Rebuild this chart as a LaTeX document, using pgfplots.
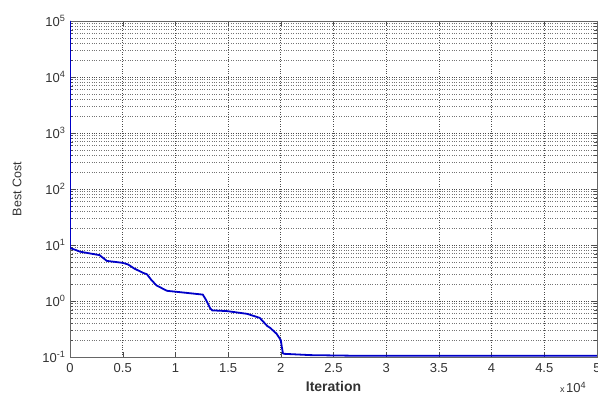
\documentclass[border=0pt]{standalone}
\usepackage{pgfplots}
\pgfplotsset{compat=1.18}
\usepackage{fontspec}
\setmainfont{Liberation Sans}
\definecolor{mblue}{RGB}{0,0,200}
\begin{document}
\begin{tikzpicture}
\useasboundingbox (0,0) rectangle (598pt,396pt);
\begin{axis}[
  at={(70pt,39pt)}, anchor=south west,
  scale only axis, width=527pt, height=336pt,
  ymode=log, log basis y=10,
  xmin=0, xmax=50000, ymin=0.1, ymax=1e5,
  xtick={0,5000,10000,15000,20000,25000,30000,35000,40000,45000,50000},
  xticklabels={0,0.5,1,1.5,2,2.5,3,3.5,4,4.5,5},
  ytick={0.1,1,10,100,1000,10000,100000},
  yticklabels={10\textsuperscript{-1},10\textsuperscript{0},10\textsuperscript{1},10\textsuperscript{2},10\textsuperscript{3},10\textsuperscript{4},10\textsuperscript{5}},
  minor ytick={0.2,0.3,0.4,0.5,0.6,0.7,0.8,0.9,2,3,4,5,6,7,8,9,20,30,40,50,60,70,80,90,200,300,400,500,600,700,800,900,2000,3000,4000,5000,6000,7000,8000,9000,20000,30000,40000,50000,60000,70000,80000,90000},
  scaled x ticks=false,
  tick align=inside,
  major tick length=5pt, minor tick length=3pt,
  tick style={black!70},
  axis line style={black!60, line width=0.8pt},
  xmajorgrids=true, ymajorgrids=true, yminorgrids=true,
  major grid style={dotted, black!70, line width=0.6pt},
  minor grid style={dotted, black!55, line width=0.5pt},
  ticklabel style={font=\fontsize{13}{13}\selectfont, black!80},
  xticklabel style={yshift=-3pt},
  yticklabel style={xshift=-1pt},
  xlabel={\bfseries Iteration},
  ylabel={Best Cost},
  xlabel style={font=\fontsize{14}{14}\selectfont, black!80, yshift=-2pt},
  ylabel style={font=\fontsize{12.5}{12.5}\selectfont, black!80, yshift=14pt},
  clip=true,
]
\addplot[mblue, line width=1.8pt] coordinates {
(0,100000) (0,10) (0,8.8) (500,8.2) (950,7.6) (2200,6.9) (2800,6.6) (3500,5.2) (5000,4.8) (5500,4.5)
(6100,3.8) (6900,3.2) (7300,3.0) (7700,2.4) (8200,1.9) (9200,1.52) (10700,1.42)
(12600,1.3) (12900,1.05) (13300,0.74) (13500,0.68) (14900,0.66) (16800,0.59)
(18000,0.5) (18700,0.36) (19000,0.33) (19600,0.26) (20000,0.2) (20100,0.15) (20200,0.117)
(20300,0.114) (22800,0.108) (27500,0.105) (50000,0.105)
};
\end{axis}
\node[anchor=base west, black!80, inner sep=0pt] at (560pt,3pt) {\fontsize{9}{9}\selectfont x\,\fontsize{13}{13}\selectfont 10\textsuperscript{4}};
\end{tikzpicture}
\end{document}
